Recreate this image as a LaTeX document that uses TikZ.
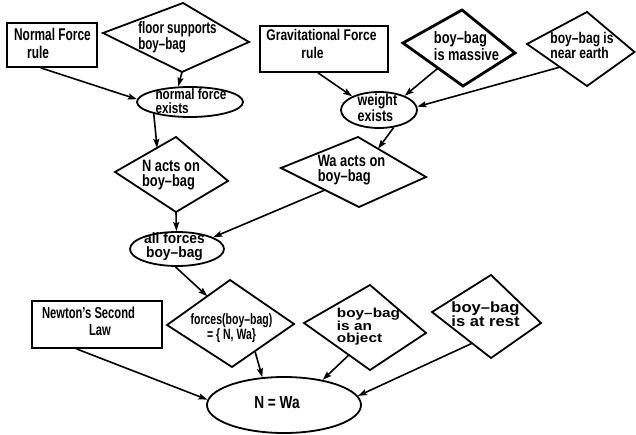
\documentclass[tikz,border=0pt]{standalone}
\usepackage{fontspec}
\usetikzlibrary{shapes.geometric,arrows.meta,calc}
\newfontfamily\fa[FakeStretch=0.70]{Liberation Sans}
\newfontfamily\fb[FakeStretch=0.78]{Liberation Sans}
\newfontfamily\fc[FakeStretch=0.92]{Liberation Sans}
\newfontfamily\fd[FakeStretch=1.12]{Liberation Sans}
\newfontfamily\fe[FakeStretch=1.18]{Liberation Sans}
\newcommand{\fsz}[2]{\bfseries\fontsize{#1}{#2}\selectfont}
\begin{document}
\begin{tikzpicture}[x=1pt,y=-1pt,
  shp/.style={draw=black,line width=1.8pt,line join=miter},
  thick shp/.style={draw=black,line width=2.8pt,line join=miter},
  boxnode/.style={shp,rectangle,inner sep=0pt},
  ellnode/.style={shp,ellipse,inner sep=0pt},
  txt/.style={inner sep=0pt,align=left},
  ctxt/.style={inner sep=0pt,align=center},
  arr/.style={line width=1.6pt,-{Stealth[length=9pt,width=6pt,inset=1.5pt]}}]
\useasboundingbox (0,0) rectangle (636,435);
% ---------- rectangles ----------
\node[boxnode,minimum width=90,minimum height=44] (nfr) at (52,45) {};
\node[boxnode,minimum width=128,minimum height=46] (gfr) at (324,49) {};
\node[boxnode,minimum width=130,minimum height=47] (nsl) at (97,324.5) {};
% ---------- ellipses ----------
\node[ellnode,minimum width=106,minimum height=30] (nfe) at (190,102) {};
\node[ellnode,minimum width=76,minimum height=36] (we) at (379,110) {};
\node[ellnode,minimum width=94,minimum height=34] (afe) at (177,249) {};
\node[ellnode,minimum width=154,minimum height=56] (nwa) at (284,405) {};
% ---------- diamonds (L, T, R, B) ----------
\coordinate (fsL) at (103,33);  \coordinate (fsT) at (183,3);
\coordinate (fsR) at (249,42);  \coordinate (fsB) at (182,72);
\draw[shp] (fsL) -- (fsT) -- (fsR) -- (fsB) -- cycle;
\coordinate (naL) at (115,172); \coordinate (naT) at (176,137);
\coordinate (naR) at (228,181); \coordinate (naB) at (176,212);
\draw[shp] (naL) -- (naT) -- (naR) -- (naB) -- cycle;
\coordinate (bmL) at (403,43);  \coordinate (bmT) at (462,10);
\coordinate (bmR) at (515,53);  \coordinate (bmB) at (463,86);
\draw[thick shp] (bmL) -- (bmT) -- (bmR) -- (bmB) -- cycle;
\coordinate (neL) at (527,44);  \coordinate (neT) at (587,12);
\coordinate (neR) at (634.5,52);  \coordinate (neB) at (587,86);
\draw[shp] (neL) -- (neT) -- (neR) -- (neB) -- cycle;
\coordinate (waL) at (281,168); \coordinate (waT) at (358,137);
\coordinate (waR) at (426,177); \coordinate (waB) at (359,207);
\draw[shp] (waL) -- (waT) -- (waR) -- (waB) -- cycle;
\coordinate (fbL) at (167,325); \coordinate (fbT) at (230,280);
\coordinate (fbR) at (294,324); \coordinate (fbB) at (232,367);
\draw[shp] (fbL) -- (fbT) -- (fbR) -- (fbB) -- cycle;
\coordinate (obL) at (304,323); \coordinate (obT) at (370,285);
\coordinate (obR) at (426,333); \coordinate (obB) at (370,370);
\draw[shp] (obL) -- (obT) -- (obR) -- (obB) -- cycle;
\coordinate (arL) at (432,312); \coordinate (arT) at (491,275);
\coordinate (arR) at (541,323); \coordinate (arB) at (491,358);
\draw[shp] (arL) -- (arT) -- (arR) -- (arB) -- cycle;
% ---------- texts ----------
\node[txt,font=\fa\fsz{17}{17.5}] (tnfr) at (52.5,43.5) {Normal Force\\\hspace{13pt}rule};
\node[txt,font=\fa\fsz{16.5}{14.5}] (tfs) at (177.5,37.5) {floor supports\\boy–bag};
\node[txt,font=\fb\fsz{15}{13.5}] (tnfe) at (191,101) {normal force\\exists};
\node[txt,font=\fb\fsz{16.5}{15}] (tna) at (171,175.5) {N acts on\\boy–bag};
\node[txt,font=\fb\fsz{15.5}{18}] (tgfr) at (321.5,44) {Gravitational Force\\\hspace{35pt}rule};
\node[txt,font=\fb\fsz{16.5}{15}] (tbm) at (466.5,46) {boy–bag\\is massive};
\node[txt,font=\fb\fsz{15.5}{14}] (tne) at (582,45.5) {boy–bag is\\near earth};
\node[txt,font=\fb\fsz{16}{13.5}] (twe) at (377.5,107.5) {weight\\exists};
\node[txt,font=\fb\fsz{16.5}{15.5}] (twa) at (351.5,170) {Wa acts on\\boy–bag};
\node[ctxt,font=\fc\fsz{15}{13.5}] (tafe) at (174.5,246.5) {all forces\\boy–bag};
\node[txt,font=\fa\fsz{16}{17}] (tnsl) at (88.5,321) {Newton’s Second\\\hspace{47pt}Law};
\node[ctxt,font=\fa\fsz{15}{15}] (tfb) at (231.5,328) {forces(boy–bag)\\= \{ N, Wa\}};
\node[txt,font=\fe\fsz{13}{12}] (tob) at (368.5,327) {boy–bag\\is an\\object};
\node[txt,font=\fd\fsz{14.8}{14}] (tar) at (485.5,314.5) {boy–bag\\is at rest};
\node[ctxt,font=\fb\fsz{17.5}{18}] (tnwa) at (277,403) {N = Wa};
% ---------- connectors ----------
\draw[arr] (nfr.-116.6) -- (nfe.177);
\draw[arr] (fsB) -- (nfe.127);
\draw[arr] (nfe.-162) -- ($(naL)!0.69!(naT)$);
\draw[arr] (gfr.-104.6) -- (we.153.4);
\draw[arr] ($(bmL)!0.583!(bmB)$) -- (we.29.7);
\draw[arr] ($(neL)!0.55!(neB)$) -- (we.5);
\draw[arr] (we.-50) -- ($(waT)!0.294!(waR)$);
\draw[arr] (naB) -- (afe.92);
\draw[arr] ($(waL)!0.564!(waB)$) -- (afe.18.9);
\draw[arr] (afe.-95) -- ($(fbL)!0.64!(fbT)$);
\draw[arr] (nsl.-130.4) -- (nwa.176);
\draw[arr] ($(fbB)!0.37!(fbR)$) -- (nwa.128);
\draw[arr] ($(obL)!0.68!(obB)$) -- (nwa.33.6);
\draw[arr] ($(arL)!0.68!(arB)$) -- (nwa.7);
\end{tikzpicture}
\end{document}
